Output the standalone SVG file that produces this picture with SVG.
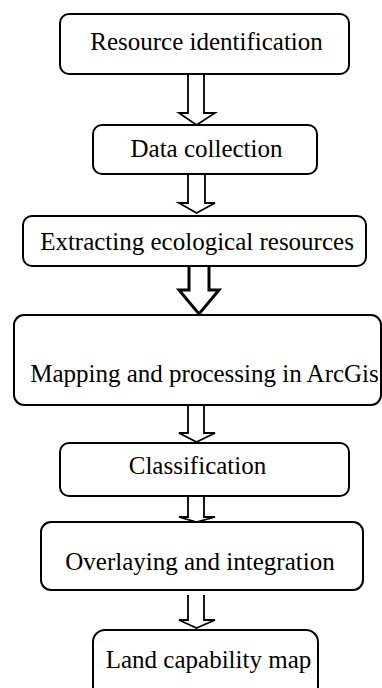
<svg xmlns="http://www.w3.org/2000/svg" width="382" height="688" viewBox="0 0 382 688">
<style>
.box{fill:#fff;stroke:#000;stroke-width:2}
.t{font-family:'Liberation Serif','Times New Roman',serif;font-size:25px;fill:#000;text-anchor:middle}
.arr{fill:#fff;stroke:#000;stroke-width:1.8;stroke-linejoin:miter}
.arrb{fill:#fff;stroke:#000;stroke-width:3;stroke-linejoin:miter}
</style>
<rect width="382" height="688" fill="#fff"/>
<g id="connectors">
<polyline class="arr" points="188,74 188,113 179,113 196.5,125 215,113 204,113 204,74"/>
<polyline class="arr" points="188,174 188,203 179,203 196.5,213 215,203 205,203 205,174"/>
<polyline class="arrb" points="189,266 189,290 179,290 199,314 219,290 209,290 209,266"/>
<polyline class="arr" points="188,405 188,433 179,433 196.5,442 215,433 204,433 204,405"/>
<polyline class="arr" points="188,496 188,517 179,517 196.5,522 215,517 204,517 204,496"/>
<polyline class="arr" points="188,595 188,620 179,620 196.5,628 215,620 204,620 204,595"/>
</g>
<g id="nodes">
<g id="n1"><rect class="box" x="60" y="14" width="289" height="60" rx="9"/><text class="t" x="206.5" y="50">Resource identification</text></g>
<g id="n2"><rect class="box" x="93" y="125" width="224" height="49" rx="9"/><text class="t" x="206.5" y="157">Data collection</text></g>
<g id="n3"><rect class="box" x="23" y="216" width="343" height="50" rx="9"/><text class="t" x="197" y="250">Extracting ecological resources</text></g>
<g id="n4"><rect class="box" x="14" y="315" width="367" height="90" rx="10"/><text class="t" x="204.5" y="382">Mapping and processing in ArcGis</text></g>
<g id="n5"><rect class="box" x="60" y="443" width="289" height="53" rx="9"/><text class="t" x="197.5" y="474">Classification</text></g>
<g id="n6"><rect class="box" x="41" y="522" width="322" height="68" rx="10"/><text class="t" x="200" y="570">Overlaying and integration</text></g>
<g id="n7"><rect class="box" x="93" y="630" width="225" height="70" rx="12"/><text class="t" x="208.5" y="668">Land capability map</text></g>
</g>
</svg>
